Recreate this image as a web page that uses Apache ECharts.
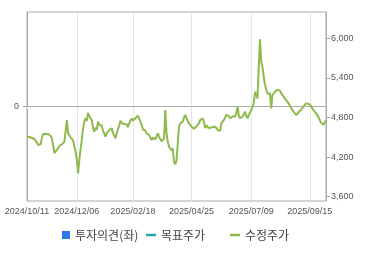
<!DOCTYPE html>
<html>
<head>
<meta charset="utf-8">
<script src="https://cdn.jsdelivr.net/npm/echarts@6/dist/echarts.min.js"></script>
<style>html,body{margin:0;padding:0;background:#fff;}#c{width:370px;height:255px;}</style>
</head>
<body>
<div id="c"></div>
<script>
// trading-day calendar
const startDate = '2024-10-11';
const holidays = ['2024-12-25','2024-12-31','2025-01-01','2025-01-27','2025-01-28','2025-01-29','2025-01-30','2025-03-03','2025-05-01','2025-05-05','2025-05-06','2025-06-03','2025-06-06','2025-08-15'];
const labelDates = ['2024/10/11','2024/12/06','2025/02/18','2025/04/25','2025/07/09','2025/09/15'];
const rightTicks = [3600, 4200, 4800, 5400, 6000];
const leftTicks = [0];
const seriesNames = ['투자의견(좌)', '목표주가', '수정주가'];
const opinionValues = [];
const targetValues = [];
const priceValues = [
4510,4495,4505,4480,4490,4470,4475,4450,4420,4385,
4400,4395,4500,4550,4530,4555,4535,4550,4525,4520,
4485,4380,4260,4230,4310,4330,4370,4360,4395,4405,
4430,4455,4760,4560,4535,4500,4495,4455,4360,4280,
4160,3955,4160,4320,4460,4640,4737,4790,4745,4873,
4820,4850,4760,4640,4585,4650,4610,4737,4690,4661,
4680,4600,4580,4510,4561,4540,4611,4590,4636,4561,
4530,4485,4561,4590,4680,4752,4720,4745,4700,4687,
4700,4652,4710,4737,4788,4750,4775,4790,4770,4830,
4838,4737,4690,4621,4640,4600,4561,4575,4535,4510,
4459,4495,4510,4470,4459,4561,4510,4475,4440,4418,
4480,4914,4561,4433,4358,4335,4300,4333,4130,4090,
4150,4400,4661,4712,4690,4737,4800,4838,4790,4770,
4712,4700,4665,4680,4630,4621,4665,4650,4712,4762,
4740,4788,4737,4640,4680,4687,4640,4611,4650,4630,
4661,4636,4645,4611,4585,4600,4712,4740,4762,4790,
4838,4810,4825,4790,4788,4820,4838,4815,4863,4964,
4830,4790,4773,4812,4840,4888,4830,4788,4835,4863,
4914,4960,5015,5191,5166,5091,5080,5985,5645,5570,
5418,5300,5230,5166,5141,5166,4940,5141,5170,5191,
5205,5220,5227,5210,5170,5150,5116,5095,5065,5040,
5015,4980,4960,4920,4888,4870,4838,4860,4880,4905,
4920,4945,4970,4995,5015,5024,5010,4990,4975,4940,
4925,4890,4870,4838,4810,4762,4720,4702,4690,4687,
4762
];

function pad(n){return n<10?'0'+n:''+n;}
const categories = [];
(function(){
  const d = new Date(startDate + 'T00:00:00Z');
  while (categories.length < priceValues.length) {
    const wd = d.getUTCDay();
    const iso = d.getUTCFullYear()+'-'+pad(d.getUTCMonth()+1)+'-'+pad(d.getUTCDate());
    if (wd !== 0 && wd !== 6 && holidays.indexOf(iso) < 0) {
      categories.push(iso.replace(/-/g,'/'));
    }
    d.setUTCDate(d.getUTCDate()+1);
  }
})();

const showAt = function(idx, val){ return labelDates.indexOf(categories[idx]) >= 0; };
const font = 'Liberation Sans, Arial, sans-serif';
const kfont = '"Noto Sans CJK KR", sans-serif';

const chart = echarts.init(document.getElementById('c'), null, {renderer:'canvas'});
function legendCfg(name, left, icon, w, h){
  return {
    data:[name], left:left, top:229, icon:icon, itemWidth:w, itemHeight:h, itemGap:0, itemTextGap:6,
    padding:0, selectedMode:false,
    textStyle:{fontFamily:kfont, fontSize:12, color:'#444'}
  };
}
chart.setOption({
  animation:false,
  backgroundColor:'#fff',
  grid:{left:27, right:44, top:12, bottom:54, show:true, borderColor:'#aaa', borderWidth:1, containLabel:false},
  legend:[
    legendCfg(seriesNames[0], 62, 'rect', 8, 8),
    legendCfg(seriesNames[1], 146, 'rect', 10, 2.5),
    legendCfg(seriesNames[2], 230, 'rect', 10, 2.5)
  ],
  xAxis:{
    type:'category', data:categories, boundaryGap:false,
    axisLine:{lineStyle:{color:'#aaa'}},
    axisTick:{show:true, interval:showAt, length:3, lineStyle:{color:'#ddd'}},
    axisLabel:{interval:showAt, color:'#555', fontFamily:font, fontSize:9, margin:6, hideOverlap:false},
    splitLine:{show:true, interval:showAt, lineStyle:{color:'#e6e6e6'}}
  },
  yAxis:[
    {type:'value', position:'left', min:-1, max:1, interval:1,
      axisLine:{show:true, lineStyle:{color:'#aaa'}},
      axisTick:{show:true, length:4, customValues:leftTicks, lineStyle:{color:'#aaa'}},
      axisLabel:{customValues:leftTicks, color:'#555', fontFamily:font, fontSize:9, margin:8},
      splitLine:{show:true, lineStyle:{color:'#e6e6e6'}}
    },
    {type:'value', position:'right', min:3535, max:6400,
      axisLine:{show:true, lineStyle:{color:'#aaa'}},
      axisTick:{show:true, length:4, customValues:rightTicks, lineStyle:{color:'#aaa'}},
      axisLabel:{customValues:rightTicks, color:'#555', fontFamily:font, fontSize:9, margin:5,
        formatter:function(v){return v.toLocaleString('en-US');}},
      splitLine:{show:false}
    }
  ],
  series:[
    {name:seriesNames[0], type:'bar', yAxisIndex:0, data:opinionValues, itemStyle:{color:'#2a7be4'}},
    {name:seriesNames[1], type:'line', yAxisIndex:1, data:targetValues, symbol:'none', itemStyle:{color:'#20a8b0'}, lineStyle:{color:'#20a8b0', width:2}},
    {name:seriesNames[2], type:'line', yAxisIndex:1, data:priceValues, symbol:'none', smooth:false, itemStyle:{color:'#8fba4e'}, lineStyle:{color:'#8fba4e', width:2}}
  ]
});
</script>
</body>
</html>
